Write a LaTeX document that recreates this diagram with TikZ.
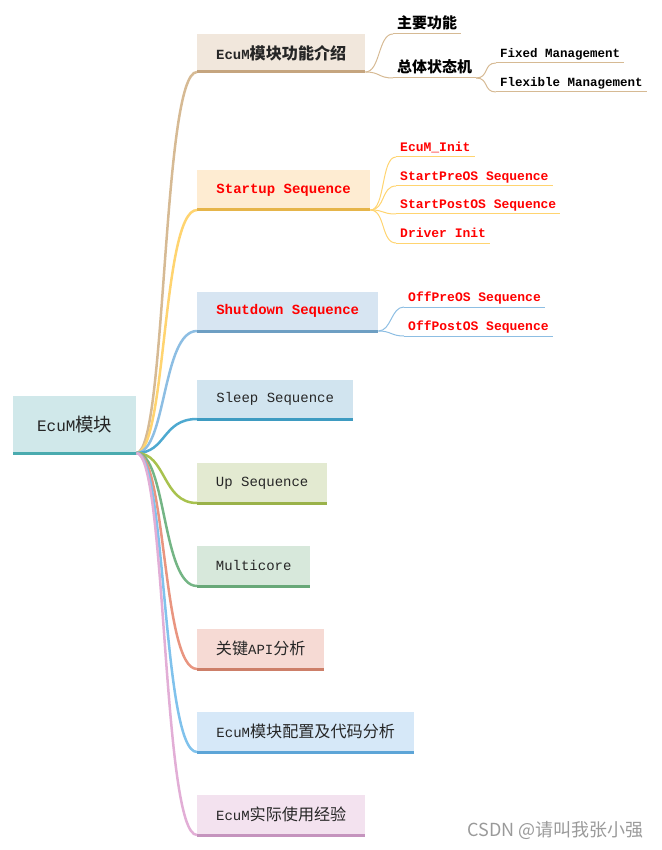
\documentclass[tikz,border=0pt]{standalone}
\usepackage{fontspec}
\setmonofont{Liberation Mono}
\newfontfamily\cjk[Scale=1.15]{Noto Sans CJK SC}
\newfontfamily\wmfont{Noto Sans CJK SC}
\newcommand\zh[1]{{\cjk #1}}

\definecolor{rootfill}{HTML}{D0E8EA}  \definecolor{rootbar}{HTML}{4AABAF}
\definecolor{introfill}{HTML}{F1E7DC} \definecolor{introbar}{HTML}{C5A57F} \definecolor{introline}{HTML}{D6BA94}
\definecolor{startfill}{HTML}{FEECD2} \definecolor{startbar}{HTML}{E6B54A} \definecolor{startline}{HTML}{FFD470}
\definecolor{shutfill}{HTML}{D7E5F2}  \definecolor{shutbar}{HTML}{6E9FC3}  \definecolor{shutline}{HTML}{8DBEE3}
\definecolor{sleepfill}{HTML}{D1E4EF} \definecolor{sleepbar}{HTML}{3E9BC1} \definecolor{sleepline}{HTML}{4EA9D0}
\definecolor{upfill}{HTML}{E3EAD1}    \definecolor{upbar}{HTML}{9AB24A}    \definecolor{upline}{HTML}{A8C24E}
\definecolor{multifill}{HTML}{D7E8DB} \definecolor{multibar}{HTML}{68A878} \definecolor{multiline}{HTML}{74B585}
\definecolor{apifill}{HTML}{F6DAD4}   \definecolor{apibar}{HTML}{CD7F69}   \definecolor{apiline}{HTML}{E99580}
\definecolor{cfgfill}{HTML}{D6E8F8}   \definecolor{cfgbar}{HTML}{5DA5D7}   \definecolor{cfgline}{HTML}{80C2EC}
\definecolor{usefill}{HTML}{F3E2EF}   \definecolor{usebar}{HTML}{C594BE}   \definecolor{useline}{HTML}{E2AED6}
\definecolor{redtext}{HTML}{FF0000}
\definecolor{darktext}{HTML}{262626}
\definecolor{wmgray}{HTML}{9A9A9A}

\tikzset{
	topic/.style={fill=#1, inner sep=0pt, minimum height=40pt, anchor=south west, text=darktext,
		font=\ttfamily\fontsize{14}{16}\selectfont},
	bar/.style={#1, line width=3pt},
	branch/.style={#1, line width=2.5pt},
	leaf/.style={inner xsep=4pt, inner ysep=2pt, anchor=south west, text height=10pt, text depth=3pt,
		font=\ttfamily\bfseries\fontsize{13}{15}\selectfont},
	subline/.style={#1, line width=1pt}
}

\begin{document}
\begin{tikzpicture}[x=1pt, y=-1pt]
	\useasboundingbox (0,0) rectangle (661,850);
	% root
	\node[topic=rootfill, minimum width=123pt, minimum height=57pt, font=\ttfamily\fontsize{16}{18}\selectfont] (root) at (13,453) {EcuM\zh{模块}};
	\draw[bar=rootbar] (root.south west) -- (root.south east);
	% main topics
	\node[topic=introfill, minimum width=168pt, minimum height=38pt, font=\ttfamily\bfseries\fontsize{14}{16}\selectfont] (intro) at (197,72) {EcuM\zh{模块功能介绍}};
	\node[topic=startfill, minimum width=173pt, text=redtext, font=\ttfamily\bfseries\fontsize{14}{16}\selectfont] (startup) at (197,210) {Startup Sequence};
	\node[topic=shutfill, minimum width=181pt, minimum height=39pt, text=redtext, font=\ttfamily\bfseries\fontsize{14}{16}\selectfont] (shutdown) at (197,331) {Shutdown Sequence};
	\node[topic=sleepfill, minimum width=156pt, minimum height=39pt] (sleep) at (197,419) {Sleep Sequence};
	\node[topic=upfill, minimum width=130pt] (up) at (197,503) {Up Sequence};
	\node[topic=multifill, minimum width=113pt] (multicore) at (197,586) {Multicore};
	\node[topic=apifill, minimum width=127pt] (api) at (197,669) {\zh{关键}API\zh{分析}};
	\node[topic=cfgfill, minimum width=217pt] (config) at (197,752) {EcuM\zh{模块配置及代码分析}};
	\node[topic=usefill, minimum width=168pt] (usage) at (197,835) {EcuM\zh{实际使用经验}};
	% bars and branches
	\foreach \n/\c in {intro/intro, startup/start, shutdown/shut, sleep/sleep, up/up, multicore/multi, api/api, config/cfg, usage/use}{
		\draw[branch=\c line] (root.south east) .. controls +(30,0) and +(-35,0) .. (\n.south west);
		\draw[bar=\c bar] (\n.south west) -- (\n.south east);
	}
	% intro leaves
	\node[leaf] (mainfunc) at (393,34) {\zh{主要功能}};
	\node[leaf] (statemachine) at (393,78) {\zh{总体状态机}};
	\node[leaf, font=\ttfamily\bfseries\fontsize{12.5}{15}\selectfont] (fixed) at (496,63) {Fixed Management};
	\node[leaf, font=\ttfamily\bfseries\fontsize{12.5}{15}\selectfont] (flexible) at (496,92) {Flexible Management};
	\foreach \n in {mainfunc, statemachine}{
		\draw[subline=introline] (intro.south east) .. controls +(15,0) and +(-15,0) .. (\n.south west);
		\draw[subline=introline] (\n.south west) -- (\n.south east);
	}
	\foreach \n in {fixed, flexible}{
		\draw[subline=introline] (statemachine.south east) .. controls +(13,0) and +(-13,0) .. (\n.south west);
		\draw[subline=introline] (\n.south west) -- (\n.south east);
	}
	% startup leaves
	\node[leaf, text=redtext] (init) at (396,157) {EcuM\_Init};
	\node[leaf, text=redtext] (preos) at (396,186) {StartPreOS Sequence};
	\node[leaf, text=redtext] (postos) at (396,214) {StartPostOS Sequence};
	\node[leaf, text=redtext] (drvinit) at (396,243) {Driver Init};
	\foreach \n in {init, preos, postos, drvinit}{
		\draw[subline=startline] (startup.south east) .. controls +(15,0) and +(-15,0) .. (\n.south west);
		\draw[subline=startline] (\n.south west) -- (\n.south east);
	}
	% shutdown leaves
	\node[leaf, text=redtext] (offpre) at (404,307) {OffPreOS Sequence};
	\node[leaf, text=redtext] (offpost) at (404,336) {OffPostOS Sequence};
	\foreach \n in {offpre, offpost}{
		\draw[subline=shutline] (shutdown.south east) .. controls +(13,0) and +(-13,0) .. (\n.south west);
		\draw[subline=shutline] (\n.south west) -- (\n.south east);
	}
	% watermark
	\node[text=wmgray, font=\wmfont\fontsize{18}{20}\selectfont, anchor=east] (mark) at (647,830) {CSDN @请叫我张小强};
\end{tikzpicture}
\end{document}
